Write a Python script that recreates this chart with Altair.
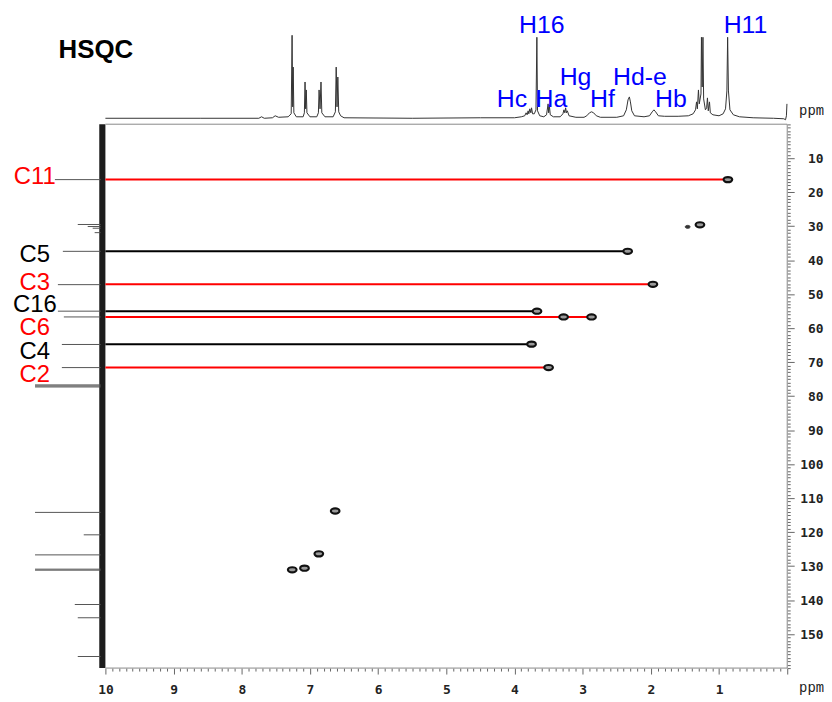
import altair as alt
import pandas as pd

# ---------------- data ----------------
# 1H projection (top trace): chemical shift (ppm) and relative intensity
H1_PPM = [10.00, 8.60, 7.75, 7.71, 7.67, 7.55, 7.51, 7.46, 7.32, 7.275, 7.262, 7.253, 7.246, 7.236, 7.20,
          7.10, 7.082, 7.072, 7.063, 7.054, 7.044, 7.00, 6.90, 6.876, 6.866, 6.852, 6.838, 6.826, 6.78,
          6.66, 6.627, 6.615, 6.603, 6.591, 6.578, 6.55, 6.50, 5.50, 4.50, 4.00, 3.90, 3.85, 3.83, 3.815,
          3.80, 3.79, 3.775, 3.76, 3.75, 3.735, 3.71, 3.685, 3.672, 3.662, 3.63, 3.57, 3.53, 3.507, 3.499,
          3.490, 3.475, 3.43, 3.33, 3.29, 3.275, 3.262, 3.25, 3.238, 3.225, 3.20, 3.10, 2.98, 2.94, 2.90,
          2.87, 2.84, 2.80, 2.74, 2.50, 2.40, 2.36, 2.335, 2.315, 2.30, 2.28, 2.24, 2.10, 2.02, 1.98, 1.955,
          1.93, 1.89, 1.80, 1.60, 1.45, 1.38, 1.345, 1.33, 1.318, 1.302, 1.29, 1.265, 1.258, 1.247, 1.236,
          1.226, 1.20, 1.182, 1.170, 1.158, 1.140, 1.128, 1.09, 1.00, 0.94, 0.905, 0.885, 0.874, 0.862,
          0.84, 0.79, 0.70, 0.50, 0.20, 0.05, 0.025, 0.012, 0.004]
H1_INT = [0.5, 0.5, 0.5, 2, 0.5, 1, 3, 1.5, 2, 5, 84, 12, 52, 6, 2,
          2, 6, 37, 10, 29, 6, 2, 2, 6, 29, 10, 37, 6, 2,
          2, 7, 52, 12, 42, 7, 3, 1, 0.5, 1, 1, 2, 3, 6, 4,
          8, 5, 10, 6, 11, 5, 5, 9, 82, 8, 3, 2, 4, 15, 6,
          14, 4, 2, 2, 5, 9, 6, 11, 6, 8, 3, 1.5, 1.5, 3, 6,
          7, 6, 3, 1.5, 1.5, 3, 9, 19, 22, 17, 8, 3, 2, 3, 7, 9,
          7, 3, 2.5, 2.5, 3, 5, 9, 17, 10, 29, 15, 25, 82, 32, 82,
          20, 9, 11, 21, 8, 17, 6, 4, 3, 5, 10, 28, 82, 28,
          9, 4, 2, 1, 0.5, 0, -1, 3, 15]

# 13C projection (left trace): peak shifts (ppm) and relative intensity
C13_PPM = [16.3, 29.5, 30.1, 30.6, 31.9, 37.4, 47.2, 55.0, 56.7, 64.8, 71.6, 76.7, 77.0, 77.3,
           114.2, 120.8, 126.7, 130.9, 131.2, 141.3, 145.2, 156.6]
C13_INT = [46, 23, 13, 8, 6, 38, 43, 43, 37, 39, 39, 66, 66, 66,
           66, 17, 66, 66, 66, 26, 23, 23]

# HSQC cross peaks (1H ppm, 13C ppm)
CROSS_H = [0.87, 1.28, 2.34, 1.97, 3.67, 3.28, 2.87, 3.75, 3.50, 6.63, 6.87, 7.08, 7.26]
CROSS_C = [16.3, 29.6, 37.4, 47.1, 55.0, 56.7, 56.7, 64.7, 71.6, 113.8, 126.4, 130.6, 131.1]
WEAK_H = [1.46]
WEAK_C = [30.2]

# carbon assignments: label, 13C shift, 1H shift of the correlated peak, colour set
ASSIGN_LABEL = ["C11", "C5", "C3", "C16", "C6", "C4", "C2"]
ASSIGN_C = [16.3, 37.4, 47.1, 55.0, 56.7, 64.7, 71.6]
ASSIGN_H = [0.87, 2.34, 1.97, 3.67, 2.87, 3.75, 3.50]
ASSIGN_SET = [1, 2, 1, 2, 1, 2, 1]

# proton assignment labels on the 1H projection
PROTON_LABEL = ["H16", "H11", "Hg", "Hd-e", "Hc", "Ha", "Hf", "Hb"]

# ---------------- annotation placement (data units) ----------------
C_LABEL_H = 11.035
C_LABEL_C = [17.5, 40.6, 48.9, 55.2, 62.0, 69.2, 75.7]
PROTON_LABEL_H = [3.60, 0.612, 3.105, 2.160, 4.038, 3.459, 2.711, 1.706]
PROTON_LABEL_LEVEL = [86.6, 86.6, 34.0, 34.0, 12.3, 12.3, 12.3, 12.3]
TITLE_H, TITLE_C = 10.14, -19.5

# spectral window and projection placement
H_LO, H_HI = 0.0, 10.0
C_LO, C_HI = 0.0, 160.0
TOP_BASE, TOP_GAIN = -1.6, 1 / 3.42      # 1H projection baseline (13C units) / gain
LEFT_BASE, LEFT_GAIN = 10.07, 1 / 68.6   # 13C projection baseline (1H units) / gain

X_SCALE = alt.Scale(domain=[0, 11.4286], reverse=True, nice=False, zero=False)
Y_SCALE = alt.Scale(domain=[-33.57, 160], reverse=True, nice=False, zero=False)

IS_INT = "abs(datum.value - round(datum.value)) < 0.001"
X_TICKS = [round(k * 0.1, 1) for k in range(0, 101)]
Y_TICKS = list(range(0, 161))
IS_TEN = "datum.value % 10 == 0 && datum.value > 0 && datum.value < 160"

X_AXIS = alt.Axis(
    values=X_TICKS, orient="bottom", domain=False, grid=False,
    labelExpr=f"({IS_INT}) && datum.value >= 1 ? format(datum.value, 'd') : ''",
    tickSize={"condition": {"test": IS_INT, "value": 6}, "value": 3},
    tickColor="#666", tickWidth=1,
    labelFont="DejaVu Sans Mono", labelFontWeight="bold", labelFontSize=13, labelColor="#222",
    labelBaseline="alphabetic", labelPadding=20, labelOverlap=False, labelFlush=False,
    title="ppm", titleFont="Liberation Mono", titleFontWeight="normal", titleFontSize=14,
    titleColor="#222", titleX=808, titleY=24, titleAlign="center", titleBaseline="alphabetic",
)
Y_AXIS = alt.Axis(
    values=Y_TICKS, orient="right", domain=False, grid=False,
    labelExpr=f"({IS_TEN}) ? datum.label : ''",
    tickSize={"condition": {"test": IS_TEN, "value": 7}, "value": 3},
    tickColor="#666", tickWidth=1,
    labelFont="DejaVu Sans Mono", labelFontWeight="bold", labelFontSize=13, labelColor="#222",
    labelAlign="right", labelBaseline="middle", labelPadding=29, labelOverlap=False, labelFlush=False,
    title="ppm", titleFont="Liberation Mono", titleFontWeight="normal", titleFontSize=14,
    titleColor="#222", titleAngle=0, titleX=24, titleY=105, titleAlign="center",
    titleBaseline="alphabetic",
)


def X(field):
    return alt.X(field, type="quantitative", scale=X_SCALE, axis=X_AXIS)


def Y(field):
    return alt.Y(field, type="quantitative", scale=Y_SCALE, axis=Y_AXIS)


h1_df = pd.DataFrame({"H": H1_PPM, "I": H1_INT})
c13_df = pd.DataFrame({"C": C13_PPM, "I": C13_INT})
cross_df = pd.DataFrame({"H": CROSS_H, "C": CROSS_C})
weak_df = pd.DataFrame({"H": WEAK_H, "C": WEAK_C})
assign_df = pd.DataFrame({"label": ASSIGN_LABEL, "C": ASSIGN_C, "Hend": ASSIGN_H,
                          "set": ASSIGN_SET, "labelC": C_LABEL_C})
assign_df["H"] = H_HI
assign_df["labelH"] = C_LABEL_H
proton_df = pd.DataFrame({"label": PROTON_LABEL, "H": PROTON_LABEL_H, "I": PROTON_LABEL_LEVEL})
title_df = pd.DataFrame({"label": ["HSQC"], "H": [TITLE_H], "C": [TITLE_C]})
hframe_df = pd.DataFrame({"H": [H_HI, H_HI], "H2": [H_LO, H_LO], "C": [C_LO, C_HI]})
vframe_df = pd.DataFrame({"H": [H_LO], "C": [C_LO], "C2": [C_HI]})
band_df = pd.DataFrame({"H": [H_HI], "H2": [LEFT_BASE + 0.02], "C": [C_LO], "C2": [C_HI]})

SET_COLOR = alt.Color("set:N", scale=alt.Scale(domain=[1, 2], range=["#ff0000", "#000000"]),
                      legend=None)

ELLIPSE = "M -1 0 A 1 0.6 0 1 0 1 0 A 1 0.6 0 1 0 -1 0 Z"

band = alt.Chart(band_df).mark_rect(color="#1c1c1c").encode(
    x=X("H"), x2="H2", y=Y("C"), y2="C2")

c13 = alt.Chart(c13_df).transform_calculate(
    x0=f"{LEFT_BASE}", x1=f"{LEFT_BASE} + datum.I * {LEFT_GAIN}"
).mark_rule(color="#555", strokeWidth=1).encode(x=X("x0"), x2="x1", y=Y("C"))

h1 = alt.Chart(h1_df).transform_calculate(
    C=f"{TOP_BASE} - datum.I * {TOP_GAIN}"
).mark_line(color="#333", strokeWidth=1, interpolate="linear").encode(x=X("H"), y=Y("C"))

hframe = alt.Chart(hframe_df).mark_rule(color="#888", strokeWidth=1).encode(
    x=X("H"), x2="H2", y=Y("C"))
vframe = alt.Chart(vframe_df).mark_rule(color="#888", strokeWidth=1).encode(
    x=X("H"), y=Y("C"), y2="C2")

links = alt.Chart(assign_df).mark_rule(strokeWidth=2).encode(
    x=X("H"), x2="Hend", y=Y("C"), color=SET_COLOR)

peaks = alt.Chart(cross_df).mark_point(
    shape=ELLIPSE, filled=True, fill="#9a9a9a", stroke="#111", strokeWidth=2.2,
    size=75, opacity=1).encode(x=X("H"), y=Y("C"))
weak = alt.Chart(weak_df).mark_point(
    shape=ELLIPSE, filled=True, fill="#333", stroke="#333", strokeWidth=1,
    size=25, opacity=1).encode(x=X("H"), y=Y("C"))

c_labels = alt.Chart(assign_df).mark_text(
    font="Liberation Sans", fontSize=24, align="center", baseline="alphabetic").encode(
    x=X("labelH"), y=Y("labelC"), text="label:N", color=SET_COLOR)

h_labels = alt.Chart(proton_df).transform_calculate(
    C=f"{TOP_BASE} - datum.I * {TOP_GAIN}"
).mark_text(font="Liberation Sans", fontSize=25, align="center", baseline="alphabetic",
            color="#0000ff").encode(x=X("H"), y=Y("C"), text="label:N")

title = alt.Chart(title_df).mark_text(
    font="Liberation Sans", fontSize=26, fontWeight="bold", align="center",
    baseline="alphabetic", color="#000").encode(x=X("H"), y=Y("C"), text="label:N")

chart = alt.layer(
    band, c13, h1, hframe, vframe, links, peaks, weak, c_labels, h_labels, title
).properties(width=784, height=662, padding=0, background="white").configure_view(stroke=None)

chart.save("out.html", embed_options={"renderer": "svg", "actions": False})
